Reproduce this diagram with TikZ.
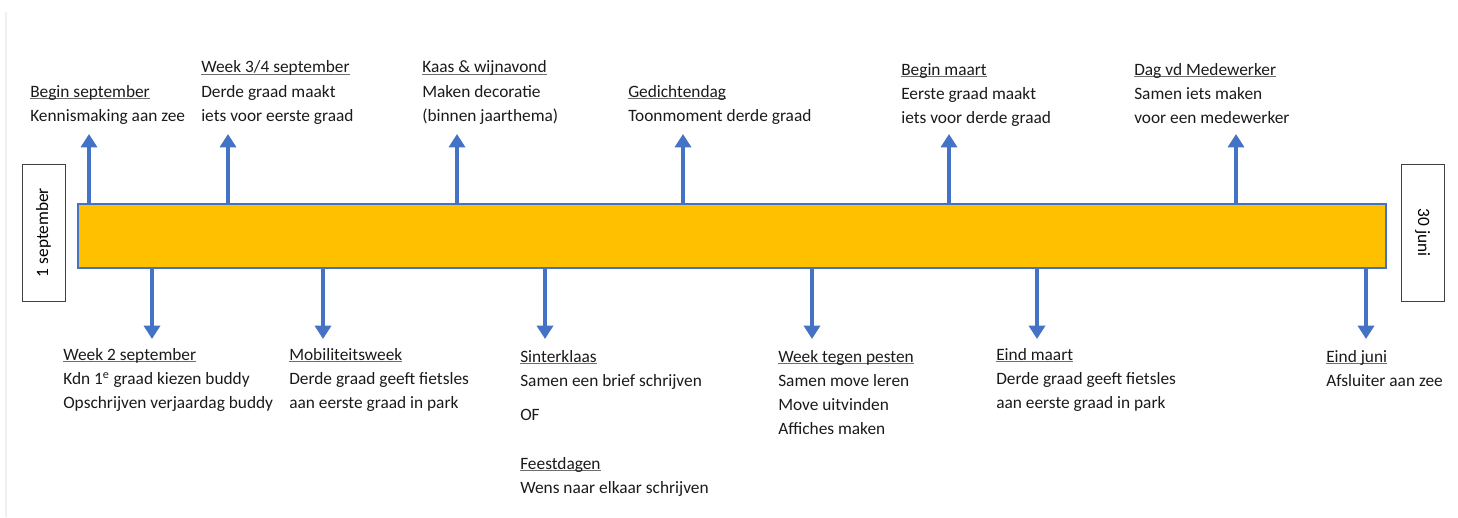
\documentclass[tikz,border=0pt]{standalone}
\usepackage{fontspec}
\setmainfont{Carlito}
\usetikzlibrary{arrows.meta}
\definecolor{barfill}{HTML}{FFC000}
\definecolor{arrblue}{HTML}{4472C4}
\definecolor{txt}{HTML}{1A1A1A}
\definecolor{ulc}{HTML}{6E6E6E}
\newcommand{\hd}[1]{\setbox0\hbox{#1}\rlap{\textcolor{ulc}{\rule[-1.6pt]{\wd0}{0.7pt}}}\box0}
\tikzset{
  lbl/.style={anchor=base west, align=left, inner sep=0pt, text=txt,
    font=\fontsize{13pt}{18pt}\selectfont},
  arr/.style={draw=arrblue, line width=3pt,
    -{Triangle[width=12pt,length=10pt]}},
  datebox/.style={draw=black!75, line width=0.6pt, fill=white,
    minimum width=32.25pt, minimum height=102.75pt, inner sep=0pt,
    font=\fontsize{13pt}{16pt}\selectfont}
}
\begin{document}
\begin{tikzpicture}[x=0.75pt,y=-0.75pt]
\useasboundingbox (0,0) rectangle (1458,517);
\draw[black!6, line width=1.5pt] (6,12) -- (6,517);
% bar
\node[draw=arrblue, line width=1pt, fill=barfill, minimum width=981pt,
  minimum height=48pt, inner sep=0pt] (bar) at (732,236) {};
% date boxes
\node[datebox] (start) at (43.5,232.5) {\rotatebox{90}{1 september}};
\node[datebox] (end) at (1422.5,232.5) {\rotatebox{-90}{30 juni}};
% up arrow tips
\coordinate (u1) at (89,134);
\coordinate (u2) at (228,134);
\coordinate (u3) at (457,134);
\coordinate (u4) at (683,134);
\coordinate (u5) at (949,134);
\coordinate (u6) at (1236,134);
\foreach \i in {1,...,6} \draw[arr] (u\i |- bar.north) -- (u\i);
% down arrow tips
\coordinate (d1) at (152,339);
\coordinate (d2) at (323,339);
\coordinate (d3) at (545,339);
\coordinate (d4) at (812,339);
\coordinate (d5) at (1037,339);
\coordinate (d6) at (1366,339);
\foreach \i in {1,...,6} \draw[arr] (d\i |- bar.south) -- (d\i);
% top labels (anchored at baseline of last line)
\node[lbl] (t1) at (30,121) {\hd{Begin september}\\Kennismaking aan zee};
\node[lbl] (t2) at (201,121) {\hd{Week 3/4 september}\\Derde graad maakt\\iets voor eerste graad};
\node[lbl] (t3) at (422,121) {\hd{Kaas \& wijnavond}\\Maken decoratie\\(binnen jaarthema)};
\node[lbl] (t4) at (628,121) {\hd{Gedichtendag}\\Toonmoment derde graad};
\node[lbl] (t5) at (901,123) {\hd{Begin maart}\\Eerste graad maakt\\iets voor derde graad};
\node[lbl] (t6) at (1134,123) {\hd{Dag vd Medewerker}\\Samen iets maken\\voor een medewerker};
% bottom labels
\node[lbl] (b1) at (63,408) {\hd{Week 2 september}\\Kdn 1\textsuperscript{e} graad kiezen buddy\\Opschrijven verjaardag buddy};
\node[lbl] (b2) at (289,408) {\hd{Mobiliteitsweek}\\Derde graad geeft fietsles\\aan eerste graad in park};
\node[lbl] (b3) at (520,386) {\hd{Sinterklaas}\\Samen een brief schrijven};
\node[lbl] (b3of) at (520,420) {OF};
\node[lbl] (b3b) at (520,493) {\hd{Feestdagen}\\Wens naar elkaar schrijven};
\node[lbl] (b4) at (778,434) {\hd{Week tegen pesten}\\Samen move leren\\Move uitvinden\\Affiches maken};
\node[lbl] (b5) at (996,408) {\hd{Eind maart}\\Derde graad geeft fietsles\\aan eerste graad in park};
\node[lbl] (b6) at (1326,386) {\hd{Eind juni}\\Afsluiter aan zee};
\end{tikzpicture}
\end{document}
